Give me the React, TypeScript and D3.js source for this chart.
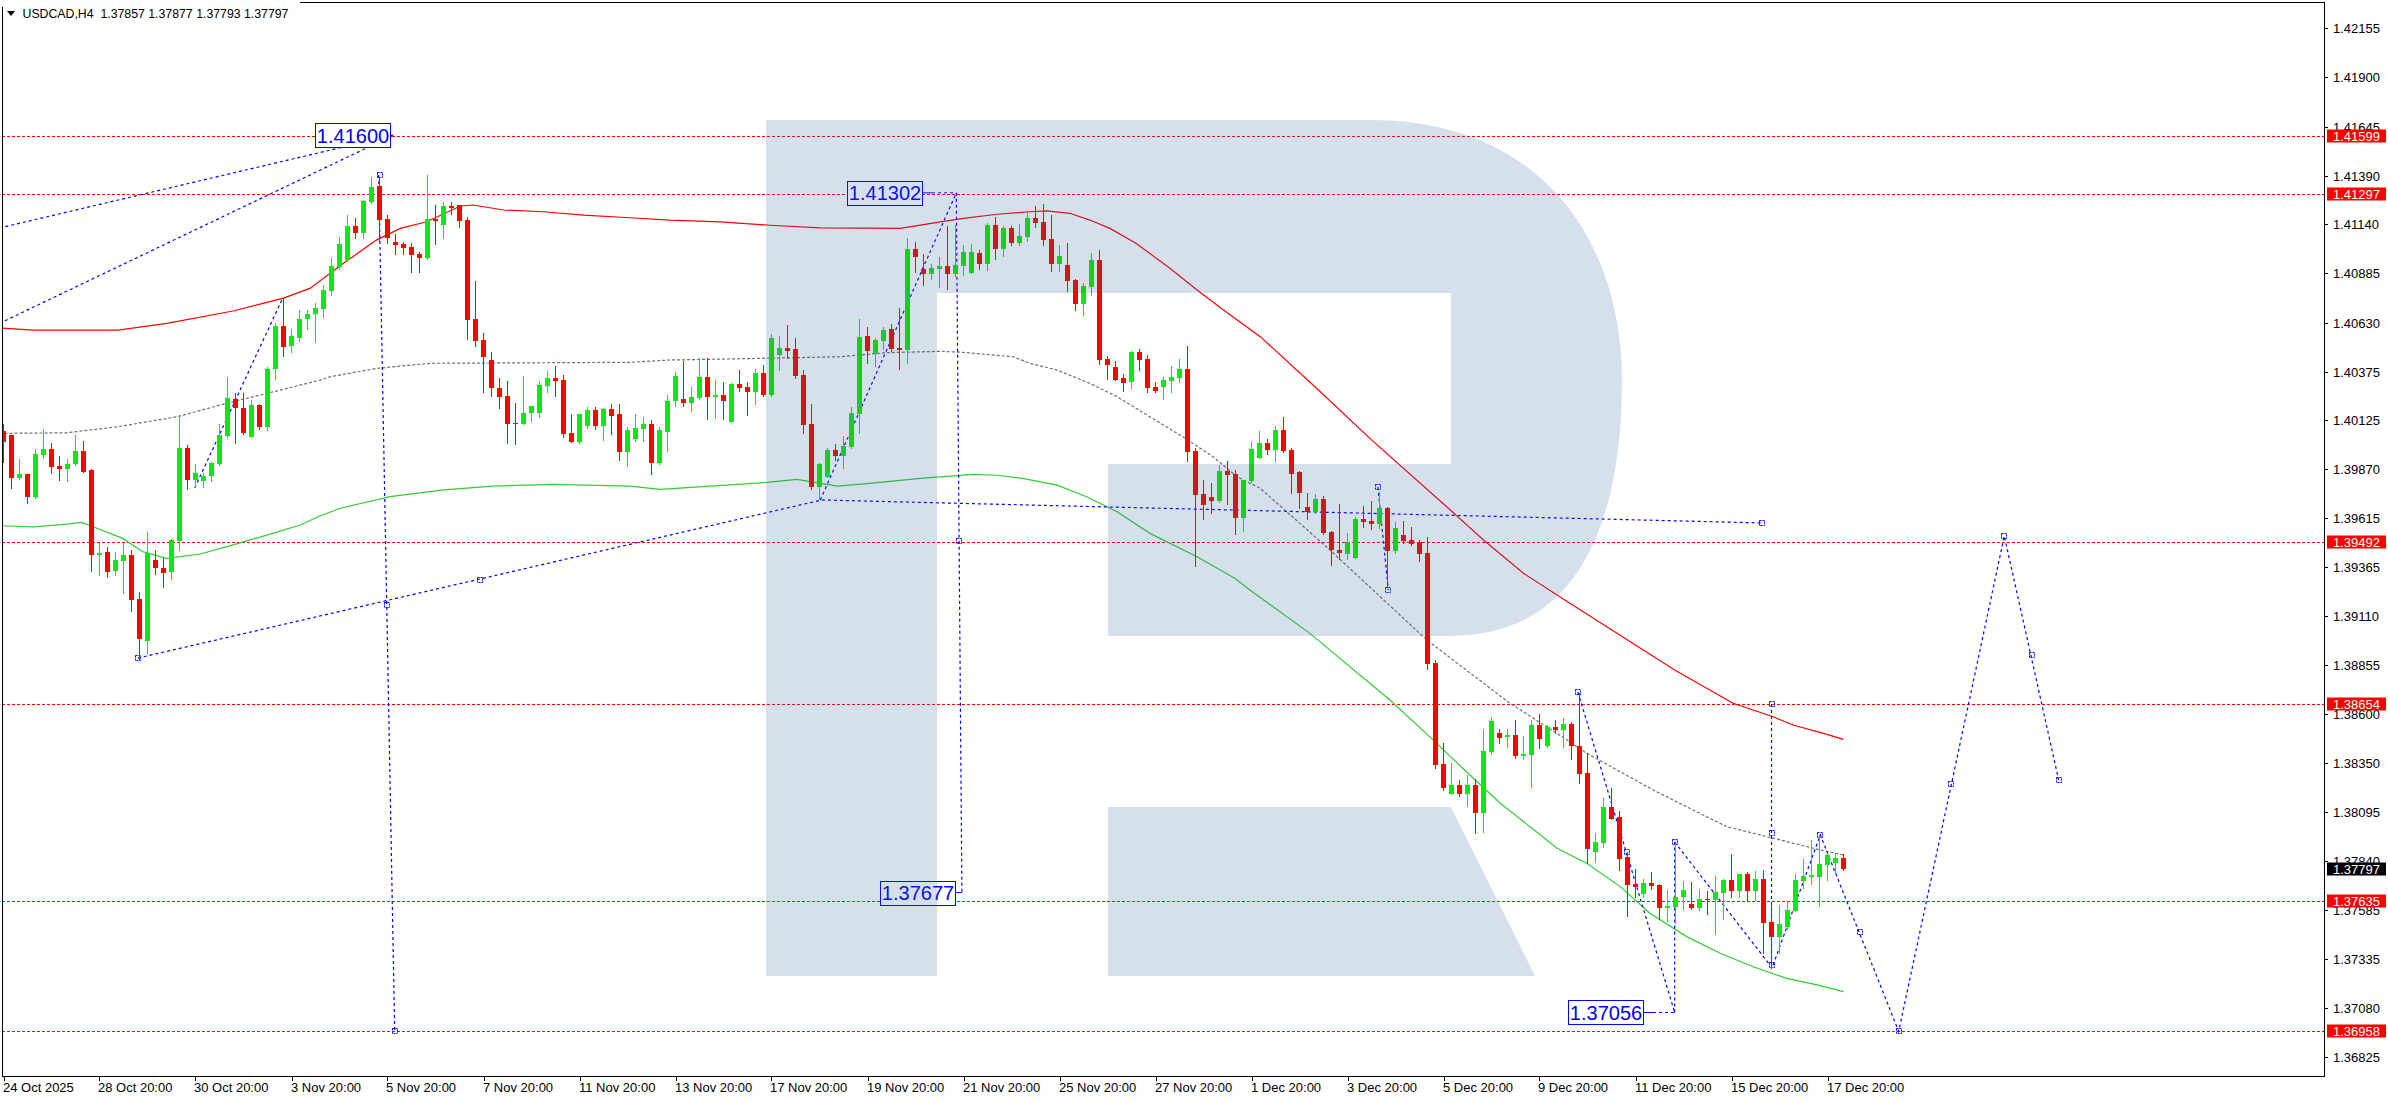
import React from 'react';
import * as d3 from 'd3';

// ---------- DATA ----------
// H4 candles [open, high, low, close], bar index 0..230
const candles: [number, number, number, number][] = [
  [1.40068,1.40104,1.39909,1.40012],[1.40047,1.40050,1.39774,1.39826],[1.39826,1.39923,1.39822,1.39845],[1.39845,1.39848,1.39693,1.39728],
  [1.39728,1.39975,1.39719,1.39949],[1.39945,1.40078,1.39926,1.39975],[1.39975,1.40004,1.39852,1.39883],[1.39886,1.39938,1.39817,1.39873],
  [1.39873,1.39923,1.39810,1.39897],[1.39895,1.40047,1.39892,1.39964],[1.39964,1.40016,1.39855,1.39857],[1.39866,1.39870,1.39344,1.39427],
  [1.39427,1.39489,1.39323,1.39436],[1.39441,1.39468,1.39313,1.39339],[1.39344,1.39443,1.39323,1.39399],[1.39396,1.39489,1.39230,1.39425],
  [1.39425,1.39451,1.39135,1.39192],[1.39197,1.39232,1.38887,1.38990],[1.38982,1.39545,1.38919,1.39434],[1.39399,1.39451,1.39329,1.39360],
  [1.39360,1.39412,1.39261,1.39334],[1.39339,1.39510,1.39301,1.39503],[1.39500,1.40142,1.39451,1.39981],[1.39981,1.39995,1.39766,1.39814],
  [1.39814,1.39897,1.39776,1.39850],[1.39809,1.39852,1.39779,1.39836],[1.39836,1.39909,1.39809,1.39902],[1.39897,1.40104,1.39892,1.40047],
  [1.40044,1.40349,1.40035,1.40239],[1.40234,1.40263,1.40004,1.40185],[1.40189,1.40263,1.40055,1.40059],[1.40038,1.40228,1.40035,1.40202],
  [1.40202,1.40206,1.40078,1.40090],[1.40090,1.40398,1.40076,1.40389],[1.40387,1.40626,1.40339,1.40612],[1.40612,1.40755,1.40458,1.40505],
  [1.40510,1.40596,1.40475,1.40560],[1.40551,1.40695,1.40536,1.40651],[1.40648,1.40695,1.40596,1.40674],[1.40672,1.40729,1.40531,1.40703],
  [1.40702,1.40824,1.40660,1.40798],[1.40795,1.40962,1.40772,1.40923],[1.40919,1.41071,1.40905,1.41035],[1.40955,1.41187,1.40950,1.41130],
  [1.41130,1.41170,1.41069,1.41095],[1.41095,1.41265,1.41069,1.41259],[1.41256,1.41382,1.41250,1.41332],[1.41337,1.41380,1.41057,1.41163],
  [1.41164,1.41187,1.41043,1.41069],[1.41047,1.41088,1.40985,1.41031],[1.41037,1.41047,1.40985,1.41018],[1.41019,1.41040,1.40893,1.40980],
  [1.40985,1.40995,1.40893,1.40966],[1.40966,1.41394,1.40957,1.41166],[1.41166,1.41239,1.41037,1.41156],[1.41135,1.41252,1.41069,1.41233],
  [1.41233,1.41252,1.41190,1.41221],[1.41237,1.41239,1.41125,1.41156],[1.41161,1.41178,1.40546,1.40643],[1.40648,1.40845,1.40510,1.40536],
  [1.40539,1.40577,1.40272,1.40453],[1.40436,1.40475,1.40249,1.40292],[1.40292,1.40342,1.40189,1.40246],[1.40249,1.40328,1.40004,1.40107],
  [1.40111,1.40215,1.40002,1.40105],[1.40107,1.40353,1.40103,1.40159],[1.40163,1.40200,1.40120,1.40197],[1.40159,1.40327,1.40142,1.40306],
  [1.40303,1.40380,1.40272,1.40342],[1.40342,1.40404,1.40251,1.40328],[1.40332,1.40356,1.40035,1.40054],[1.40056,1.40156,1.40010,1.40012],
  [1.40012,1.40156,1.40007,1.40156],[1.40094,1.40194,1.40082,1.40177],[1.40177,1.40194,1.40080,1.40094],[1.40094,1.40189,1.40021,1.40182],
  [1.40182,1.40208,1.40054,1.40147],[1.40156,1.40208,1.39917,1.39961],[1.39961,1.40090,1.39888,1.40073],[1.40025,1.40154,1.40016,1.40083],
  [1.40080,1.40142,1.40018,1.40102],[1.40102,1.40125,1.39843,1.39904],[1.39900,1.40087,1.39895,1.40073],[1.40064,1.40254,1.39966,1.40223],
  [1.40223,1.40375,1.40199,1.40353],[1.40234,1.40432,1.40199,1.40215],[1.40215,1.40294,1.40171,1.40242],[1.40240,1.40444,1.40232,1.40348],
  [1.40348,1.40444,1.40132,1.40246],[1.40246,1.40332,1.40137,1.40253],[1.40253,1.40320,1.40132,1.40225],[1.40116,1.40315,1.40116,1.40311],
  [1.40311,1.40384,1.40275,1.40292],[1.40296,1.40323,1.40151,1.40272],[1.40272,1.40392,1.40208,1.40368],[1.40368,1.40410,1.40250,1.40254],
  [1.40253,1.40570,1.40249,1.40550],[1.40463,1.40560,1.40384,1.40498],[1.40498,1.40617,1.40449,1.40484],[1.40493,1.40548,1.40342,1.40353],
  [1.40358,1.40384,1.40059,1.40099],[1.40104,1.40208,1.39766,1.39779],[1.39779,1.39900,1.39715,1.39897],[1.39831,1.39978,1.39828,1.39969],
  [1.39969,1.40000,1.39917,1.39938],[1.39938,1.40044,1.39878,1.39990],[1.39986,1.40190,1.39981,1.40161],[1.40158,1.40648,1.40059,1.40555],
  [1.40560,1.40605,1.40422,1.40482],[1.40467,1.40548,1.40406,1.40539],[1.40536,1.40605,1.40493,1.40591],[1.40596,1.40622,1.40484,1.40493],
  [1.40498,1.40703,1.40389,1.40487],[1.40487,1.41066,1.40422,1.41011],[1.41011,1.41049,1.40893,1.40971],[1.40907,1.40983,1.40824,1.40881],
  [1.40879,1.40933,1.40855,1.40914],[1.40907,1.40971,1.40815,1.40923],[1.40923,1.41130,1.40805,1.40881],[1.40881,1.41135,1.40870,1.40928],
  [1.40923,1.41031,1.40876,1.40995],[1.40888,1.41037,1.40885,1.40995],[1.40990,1.41006,1.40907,1.40933],[1.40933,1.41144,1.40902,1.41135],
  [1.41135,1.41175,1.40959,1.41011],[1.41011,1.41130,1.40975,1.41120],[1.41120,1.41130,1.41031,1.41044],[1.41044,1.41140,1.41031,1.41078],
  [1.41075,1.41206,1.41052,1.41171],[1.41171,1.41234,1.41126,1.41145],[1.41151,1.41244,1.41031,1.41057],[1.41063,1.41187,1.40897,1.40935],
  [1.40935,1.41031,1.40897,1.40975],[1.40928,1.41042,1.40795,1.40847],[1.40850,1.40855,1.40696,1.40728],[1.40728,1.40833,1.40669,1.40819],
  [1.40814,1.40990,1.40774,1.40954],[1.40954,1.41006,1.40415,1.40436],[1.40441,1.40456,1.40339,1.40410],[1.40399,1.40430,1.40330,1.40332],
  [1.40342,1.40363,1.40277,1.40318],[1.40322,1.40482,1.40292,1.40477],[1.40477,1.40493,1.40384,1.40437],[1.40441,1.40462,1.40272,1.40292],
  [1.40296,1.40322,1.40272,1.40275],[1.40298,1.40349,1.40234,1.40332],[1.40329,1.40406,1.40272,1.40348],[1.40344,1.40441,1.40323,1.40389],
  [1.40389,1.40510,1.39914,1.39961],[1.39964,1.39981,1.39368,1.39738],[1.39741,1.39814,1.39614,1.39686],[1.39726,1.39798,1.39645,1.39705],
  [1.39705,1.39892,1.39700,1.39861],[1.39861,1.39912,1.39691,1.39842],[1.39845,1.39866,1.39534,1.39619],[1.39619,1.39816,1.39551,1.39814],
  [1.39811,1.40009,1.39806,1.39975],[1.39930,1.40068,1.39926,1.40006],[1.40006,1.40027,1.39951,1.39971],[1.39971,1.40094,1.39914,1.40073],
  [1.40073,1.40140,1.39959,1.39965],[1.39970,1.39980,1.39749,1.39847],[1.39856,1.39861,1.39671,1.39745],[1.39674,1.39749,1.39614,1.39650],
  [1.39650,1.39742,1.39645,1.39716],[1.39716,1.39731,1.39534,1.39541],[1.39545,1.39548,1.39376,1.39450],[1.39452,1.39690,1.39405,1.39434],
  [1.39433,1.39540,1.39407,1.39491],[1.39412,1.39623,1.39410,1.39612],[1.39612,1.39680,1.39572,1.39598],[1.39602,1.39705,1.39560,1.39588],
  [1.39588,1.39752,1.39564,1.39669],[1.39669,1.39672,1.39262,1.39445],[1.39448,1.39597,1.39438,1.39566],[1.39529,1.39602,1.39490,1.39500],
  [1.39503,1.39571,1.39478,1.39481],[1.39491,1.39503,1.39396,1.39433],[1.39436,1.39519,1.38837,1.38863],[1.38866,1.38882,1.38324,1.38339],
  [1.38343,1.38452,1.38208,1.38220],[1.38189,1.38348,1.38187,1.38234],[1.38234,1.38260,1.38179,1.38187],[1.38189,1.38286,1.38127,1.38234],
  [1.38234,1.38265,1.37987,1.38091],[1.38091,1.38526,1.37992,1.38410],[1.38407,1.38588,1.38393,1.38566],[1.38503,1.38524,1.38453,1.38479],
  [1.38481,1.38524,1.38433,1.38493],[1.38493,1.38571,1.38376,1.38386],[1.38386,1.38490,1.38371,1.38395],[1.38391,1.38571,1.38225,1.38545],
  [1.38545,1.38604,1.38428,1.38474],[1.38438,1.38545,1.38433,1.38535],[1.38535,1.38571,1.38505,1.38519],[1.38521,1.38583,1.38433,1.38550],
  [1.38550,1.38562,1.38369,1.38436],[1.38436,1.38709,1.38246,1.38293],[1.38296,1.38402,1.37828,1.37904],[1.37889,1.37984,1.37837,1.37939],
  [1.37936,1.38167,1.37915,1.38120],[1.38120,1.38219,1.38057,1.38060],[1.38069,1.38101,1.37794,1.37853],[1.37863,1.37889,1.37557,1.37718],
  [1.37721,1.37799,1.37654,1.37708],[1.37671,1.37747,1.37656,1.37727],[1.37727,1.37784,1.37696,1.37713],[1.37716,1.37720,1.37540,1.37599],
  [1.37599,1.37690,1.37531,1.37607],[1.37604,1.37936,1.37521,1.37654],[1.37654,1.37739,1.37590,1.37690],[1.37618,1.37732,1.37590,1.37599],
  [1.37599,1.37696,1.37588,1.37644],[1.37644,1.37685,1.37568,1.37639],[1.37639,1.37763,1.37464,1.37682],[1.37677,1.37749,1.37542,1.37742],
  [1.37742,1.37879,1.37656,1.37687],[1.37687,1.37776,1.37656,1.37773],[1.37773,1.37785,1.37638,1.37687],[1.37687,1.37789,1.37638,1.37747],
  [1.37747,1.37794,1.37366,1.37521],[1.37523,1.37621,1.37284,1.37447],[1.37449,1.37613,1.37366,1.37514],[1.37500,1.37635,1.37490,1.37587],
  [1.37583,1.37773,1.37580,1.37742],[1.37737,1.37851,1.37701,1.37763],[1.37759,1.37949,1.37720,1.37768],[1.37759,1.37975,1.37609,1.37825],
  [1.37822,1.37884,1.37742,1.37870],[1.37828,1.37884,1.37777,1.37856],[1.37857,1.37877,1.37793,1.37797],
];

const priceTicks = [1.42155,1.41900,1.41645,1.41390,1.41140,1.40885,1.40630,1.40375,1.40125,1.39870,1.39615,
  1.39365,1.39110,1.38855,1.38600,1.38350,1.38095,1.37840,1.37585,1.37335,1.37080,1.36825];

// one label every 12 bars
const timeLabels = ['24 Oct 2025','28 Oct 20:00','30 Oct 20:00','3 Nov 20:00','5 Nov 20:00','7 Nov 20:00',
  '11 Nov 20:00','13 Nov 20:00','17 Nov 20:00','19 Nov 20:00','21 Nov 20:00','25 Nov 20:00','27 Nov 20:00',
  '1 Dec 20:00','3 Dec 20:00','5 Dec 20:00','9 Dec 20:00','11 Dec 20:00','15 Dec 20:00','17 Dec 20:00'];

const levelLines = [1.41599, 1.41297, 1.39492, 1.38654, 1.37635, 1.36958];
const lastPrice = 1.37797;
const headerText = 'USDCAD,H4  1.37857 1.37877 1.37793 1.37797';

// moving averages [bar index, price]
const redMA: [number, number][] = [[-0.5,1.40602],[3.7,1.40591],[14.3,1.40591],[20.4,1.40626],[28.7,1.40690],[34.9,1.40755],
  [38.3,1.40807],[42.5,1.40937],[46.6,1.41057],[49.6,1.41118],[52.9,1.41152],[57.1,1.41234],[58.7,1.41239],[62.5,1.41213],
  [67.5,1.41204],[72.5,1.41187],[78.3,1.41173],[83.3,1.41161],[89.6,1.41152],[95.8,1.41134],[102.1,1.41121],[112.1,1.41118],
  [117.1,1.41152],[120,1.41170],[124.2,1.41191],[128.3,1.41204],[130.4,1.41209],[133.3,1.41196],[135.8,1.41161],[138.3,1.41118],
  [141.6,1.41040],[145.8,1.40911],[149.2,1.40799],[152.5,1.40695],[157.1,1.40557],[164.1,1.40291],[171,1.40022],[180.4,1.39676],
  [185,1.39504],[190,1.39331],[195.8,1.39176],[208.9,1.38830],[216.2,1.38658],[221.2,1.38588],[223.7,1.38545],[227.5,1.38502],[230,1.38471]];

const grayMA: [number, number][] = [[-0.5,1.40056],[7.9,1.40059],[14.2,1.40090],[21.7,1.40142],[27.9,1.40212],[32.9,1.40263],
  [39.6,1.40332],[40.8,1.40349],[46.7,1.40393],[53.3,1.40419],[78.3,1.40424],[83.3,1.40436],[95.4,1.40445],[104.6,1.40453],
  [110.4,1.40474],[117.1,1.40481],[119.9,1.40476],[126.2,1.40453],[128.3,1.40419],[131.7,1.40384],[135.8,1.40315],[139.2,1.40246],
  [143.3,1.40142],[147.4,1.40039],[151.2,1.39935],[154.2,1.39831],[157.1,1.39771],[165.8,1.39452],[177.9,1.38986],[188.3,1.38658],
  [194.2,1.38502],[197.9,1.38399],[201.7,1.38312],[206.2,1.38209],[211.2,1.38105],[215.4,1.38019],[219.6,1.37976],[222.9,1.37941],
  [227.1,1.37898],[230,1.37872]];

const greenMA: [number, number][] = [[-0.5,1.39578],[3.7,1.39572],[7.9,1.39586],[9.8,1.39595],[11.2,1.39572],[14.9,1.39512],
  [17.4,1.39443],[20.4,1.39409],[24.6,1.39431],[28.7,1.39478],[32.9,1.39529],[37.1,1.39581],[39.6,1.39629],[42.1,1.39668],
  [48.3,1.39728],[55,1.39763],[61.2,1.39783],[68.7,1.39792],[78.3,1.39783],[82.1,1.39766],[87.4,1.39780],[95.4,1.39802],
  [99.2,1.39818],[104.2,1.39783],[108.3,1.39797],[114.6,1.39823],[117.1,1.39831],[121.2,1.39844],[124.2,1.39839],[127.4,1.39823],
  [131.7,1.39788],[135.4,1.39728],[139.2,1.39650],[143.3,1.39538],[149.2,1.39417],[153.9,1.39305],[155.8,1.39245],[163.3,1.39020],
  [173.3,1.38675],[178.7,1.38468],[182.4,1.38321],[187.1,1.38140],[194.2,1.37907],[197.9,1.37829],[202.1,1.37708],[205.8,1.37570],
  [210.4,1.37449],[214.6,1.37363],[218.7,1.37293],[222.9,1.37233],[226.7,1.37199],[230,1.37164]];

// analysis trend lines [bar1, price1, bar2, price2]
const trendLines: [number, number, number, number][] = [
  [-0.5,1.41120,48.7,1.41600],
  [-0.5,1.40626,48.7,1.41600],
  [46.9,1.41394,48.9,1.36958],
  [16.8,1.38892,102.3,1.39711],
  [23.9,1.39773,34.9,1.40757],
  [102.1,1.39711,119.1,1.41302],
  [119.1,1.41302,119.8,1.37677],
  [102.3,1.39711,219.8,1.39592],
  [171.8,1.39778,173.1,1.39245],
  [196.8,1.38716,208.9,1.37056],
  [208.9,1.37056,208.9,1.37939],
  [208.9,1.37939,220.8,1.37302],
  [221.0,1.37302,221.0,1.38654],
];
// projected zigzag [bar, price]
const zigzag: [number, number][] = [[221.2,1.37302],[227.1,1.37976],[236.9,1.36958],[250.1,1.39524],[256.9,1.38260]];

const pointMarks: [number, number][] = [[47,1.41394],[48.9,1.36958],[16.8,1.38892],[59.6,1.39296],[48.0,1.39167],[119.4,1.39498],
  [171.8,1.39778],[173.1,1.39245],[219.8,1.39592],[196.8,1.38716],[202.9,1.37887],[208.9,1.37939],[221.0,1.37302],[221.0,1.38654],
  [221.0,1.37986],[227.1,1.37976],[232.1,1.37473],[236.9,1.36958],[243.4,1.38240],[250.1,1.39524],[253.6,1.38908],[256.9,1.38260]];

const priceTags = [
  { text: '1.41600', bar: 48.7, price: 1.41600 },
  { text: '1.41302', bar: 119.1, price: 1.41302 },
  { text: '1.37677', bar: 119.8, price: 1.37677 },
  { text: '1.37056', bar: 208.9, price: 1.37056 },
];

// ---------- LAYOUT ----------
const W = 2388, H = 1100;
const PL = 2, PR = 2324, PT = 2, PB = 1076;
const RED = '#ff0000', GREEN = '#00ee00', BLUE = '#0000ff';
const FONT = '"Liberation Sans", Arial, sans-serif';
const tagGap = [3, 34, 7, 32];

export default function App() {
  const xs = d3.scaleLinear().domain([0, 230]).range([3.5, 1843.5]);
  const ys = d3.scaleLinear().domain([1.36727, 1.42288]).range([PB, 2.5]);
  const line = d3.line<[number, number]>().x(d => xs(d[0])).y(d => ys(d[1]));
  const crisp = (v: number) => Math.round(v) + 0.5;

  const watermark =
    'M766,120 H1371 C1540,120 1622,240 1622,380 C1622,520 1580,636 1450,636 H1108 V464 H1451 V293 H937 V976 H766 Z ' +
    'M1108,807 H1451 L1535,976 H1108 Z';

  return (
    <svg width={W} height={H} viewBox={`0 0 ${W} ${H}`}
      style={{ position: 'absolute', left: 0, top: 0, background: '#fff', fontFamily: FONT }}>
      <defs>
        <clipPath id="plot"><rect x={PL} y={PT} width={PR - PL} height={PB - PT} /></clipPath>
      </defs>
      <rect x={0} y={0} width={W} height={H} fill="#fff" />
      <g clipPath="url(#plot)">
        {/* level lines */}
        {levelLines.map((v, i) => (
          <line key={'lv' + i} x1={PL} x2={PR} y1={crisp(ys(v))} y2={crisp(ys(v))} stroke={RED} strokeWidth={1} strokeDasharray="3,2" />
        ))}
        {/* moving averages */}
        <path d={line(greenMA) || ''} fill="none" stroke="#32cd32" strokeWidth={1.2} />
        <path d={line(grayMA) || ''} fill="none" stroke="#707070" strokeWidth={1.2} strokeDasharray="3,2" />
        <path d={line(redMA) || ''} fill="none" stroke={RED} strokeWidth={1.2} />
        {/* trend lines */}
        {trendLines.map((t, i) => (
          <line key={'tl' + i} x1={xs(t[0])} y1={ys(t[1])} x2={xs(t[2])} y2={ys(t[3])} stroke={BLUE} strokeWidth={1.2} strokeDasharray="3,3" />
        ))}
        <path d={line(zigzag) || ''} fill="none" stroke={BLUE} strokeWidth={1.2} strokeDasharray="3,3" />
        {pointMarks.map((m, i) => (
          <rect key={'pm' + i} x={Math.round(xs(m[0])) - 2.5} y={Math.round(ys(m[1])) - 2.5} width={5} height={5}
            fill="none" stroke={BLUE} strokeWidth={1} strokeDasharray="2,1" />
        ))}
        {/* candles */}
        {candles.map(([o, h, l, c], i) => {
          const cx = Math.floor(xs(i)) + 0.5;
          const col = c >= o ? GREEN : RED;
          const top = Math.round(ys(Math.max(o, c)));
          const bot = Math.round(ys(Math.min(o, c)));
          return (
            <g key={'c' + i}>
              <line x1={cx} x2={cx} y1={Math.round(ys(h))} y2={Math.round(ys(l)) + 1} stroke={col} strokeWidth={1} />
              <rect x={cx - 2.5} y={top} width={5} height={Math.max(1, bot - top)} fill={col} />
            </g>
          );
        })}
        {/* price tags */}
        {priceTags.map((t, i) => {
          const ax = xs(t.bar), ay = ys(t.price);
          const bw = 75, bh = 24;
          const bx = Math.round(ax - tagGap[i] - bw);
          const by = Math.round(ay - bh / 2);
          const solidEnd = Math.min(ax, bx + bw + 10);
          return (
            <g key={'pt' + i}>
              <line x1={bx + bw} x2={solidEnd} y1={ay} y2={ay} stroke={BLUE} strokeWidth={1} />
              <line x1={solidEnd} x2={ax} y1={ay} y2={ay} stroke={BLUE} strokeWidth={1} strokeDasharray="3,3" />
              <rect x={bx + 0.5} y={by + 0.5} width={bw} height={bh} fill="#fff" stroke={BLUE} strokeWidth={1} />
              <text x={bx + bw / 2 + 0.5} y={ay} dy="0.36em" textAnchor="middle" fontSize={20} fill={BLUE}>{t.text}</text>
            </g>
          );
        })}
        {/* watermark overlay */}
        <path d={watermark} fill="rgb(50,100,160)" fillOpacity={0.2} />
      </g>

      {/* frame */}
      <line x1={300} x2={PR + 0.5} y1={2.5} y2={2.5} stroke="#000" />
      <line x1={2.5} x2={2.5} y1={7} y2={PB + 0.5} stroke="#000" />
      <line x1={PR + 0.5} x2={PR + 0.5} y1={2} y2={PB + 0.5} stroke="#000" />
      <line x1={2} x2={PR + 1} y1={PB + 0.5} y2={PB + 0.5} stroke="#000" />

      {/* price axis */}
      {priceTicks.map((v, i) => {
        const yy = crisp(ys(v));
        return (
          <g key={'yt' + i}>
            <line x1={PR} x2={PR + 4} y1={yy} y2={yy} stroke="#000" />
            <text x={2333} y={yy} dy="0.36em" fontSize={13} fill="#000">{v.toFixed(5)}</text>
          </g>
        );
      })}
      {levelLines.map((v, i) => {
        const yy = Math.round(ys(v));
        return (
          <g key={'yl' + i}>
            <rect x={2327} y={yy - 6.5} width={59} height={13} fill={RED} />
            <text x={2333} y={yy} dy="0.36em" fontSize={13} fill="#fff">{v.toFixed(5)}</text>
          </g>
        );
      })}
      <g>
        <rect x={2327} y={Math.round(ys(lastPrice)) - 6.5} width={59} height={13} fill="#000" />
        <text x={2333} y={Math.round(ys(lastPrice))} dy="0.36em" fontSize={13} fill="#fff">{lastPrice.toFixed(5)}</text>
      </g>

      {/* time axis */}
      {timeLabels.map((s, j) => {
        const xx = crisp(xs(j * 12));
        return (
          <g key={'xt' + j}>
            <line x1={xx} x2={xx} y1={PB} y2={PB + 5} stroke="#000" />
            <text x={xx - 1.5} y={1092} fontSize={13} fill="#000">{s}</text>
          </g>
        );
      })}

      {/* header */}
      <path d="M7,11 L15,11 L11,16 Z" fill="#000" />
      <text x={22.5} y={17.5} fontSize={12.3} fill="#000" style={{ whiteSpace: 'pre' }}>{headerText}</text>
    </svg>
  );
}
